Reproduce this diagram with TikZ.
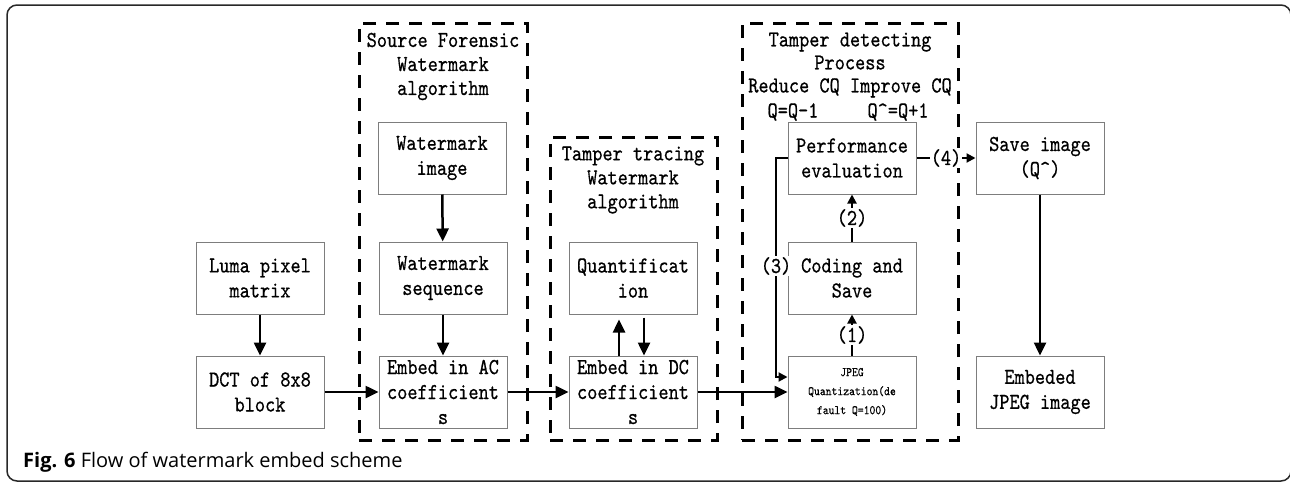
\documentclass[tikz,border=0pt]{standalone}
\usepackage{fontspec}
\setsansfont{Open Sans}
\newfontfamily\boxff{lmmono10-regular.otf}[FakeStretch=0.85,FakeBold=0.6]
\usepackage{tikz}
\usetikzlibrary{arrows.meta, positioning}
\definecolor{boxgray}{RGB}{125,125,125}
\definecolor{framegray}{RGB}{40,40,40}
\tikzset{
  blk/.style={rectangle,draw=boxgray,line width=1pt,
              minimum width=128pt,minimum height=72pt,inner sep=0pt,
              font=\fontsize{22.8}{25}\selectfont\boxff,align=center},
  grp/.style={rectangle,draw=black,line width=3pt,
              dash pattern=on 13pt off 10pt,inner sep=0pt},
  ttl/.style={font=\fontsize{22.8}{24}\selectfont\boxff,align=center,inner sep=0pt},
  arr/.style={-{Triangle[length=13pt,width=12pt]},line width=2.5pt},
  lnk/.style={-{Triangle[length=9pt,width=9pt]},line width=2pt},
  tag/.style={font=\fontsize{22.8}{24}\selectfont\boxff,fill=white,inner sep=1pt},
}

\begin{document}
\begin{tikzpicture}[x=1pt,y=-1pt]
  \useasboundingbox (0,0) rectangle (1290,482);
  \draw[framegray,line width=1.5pt,rounded corners=10pt] (7,5) rectangle (1291,481);

  % dashed groups
  \node[grp,minimum width=168pt,minimum height=417pt](srcgrp) at (443,231.5){};
  \node[grp,minimum width=167pt,minimum height=303pt](trcgrp) at (633.5,288.5){};
  \node[grp,minimum width=216pt,minimum height=417pt](detgrp) at (850,231.5){};
  \node[ttl](srcttl) at (443,66.5){Source Forensic\\Watermark\\algorithm};
  \node[ttl](trcttl) at (633,180){Tamper tracing\\Watermark\\algorithm};
  \node[ttl,font=\fontsize{22.8}{23}\selectfont\boxff](detttl) at (850,65){Tamper detecting\\Process\\Reduce CQ Improve CQ};
  \node[ttl](qdown) at (793,112){Q=Q-1};
  \node[ttl](qup) at (898,112){Q\textasciicircum=Q+1};

  % blocks
  \node[blk](luma) at (260,278){Luma pixel\\matrix};
  \node[blk](dct) at (260,392){DCT of 8x8\\block};
  \node[blk](wmimg) at (442,158){Watermark\\image};
  \node[blk](wmseq) at (443,278){Watermark\\sequence};
  \node[blk](embac) at (443,392){Embed in AC\\coefficient\\s};
  \node[blk](quant) at (633,278){Quantificat\\ion};
  \node[blk](embdc) at (633,392){Embed in DC\\coefficient\\s};
  \node[blk](perf) at (852,158){Performance\\evaluation};
  \node[blk](coding) at (852,278){Coding and\\Save};
  \node[blk,font=\fontsize{13.1}{19}\selectfont\boxff](jpeg) at (852,392){JPEG\\Quantization(de\\fault Q=100)};
  \node[blk](save) at (1040,158){Save image\\(Q\textasciicircum)};
  \node[blk](embjpeg) at (1040,392){Embeded\\JPEG image};

  \foreach \a/\b in {luma/dct,wmimg/wmseq,wmseq/embac,save/embjpeg,dct/embac,embac/embdc,embdc/jpeg}
    \draw[arr](\a)--(\b);
  \draw[arr]([xshift=-14pt]embdc.north)--([xshift=-14pt,yshift=-5pt]quant.south);
  \draw[arr]([xshift=11pt,yshift=-3pt]quant.south)--([xshift=11pt]embdc.north);

  \draw[lnk](jpeg)--node[tag]{(1)}(coding);
  \draw[lnk](coding)--node[tag]{(2)}(perf);
  \draw[lnk](perf.west)-|(776,266)node[tag]{(3)}|-([yshift=15pt]jpeg.west);
  \draw[lnk](perf)--node[tag]{(4)}(save);

  \node[anchor=west,inner sep=0pt,font=\fontsize{20}{22}\selectfont\sffamily](cap) at (23,462)
    {\textbf{Fig. 6} Flow of watermark embed scheme};
\end{tikzpicture}
\end{document}
